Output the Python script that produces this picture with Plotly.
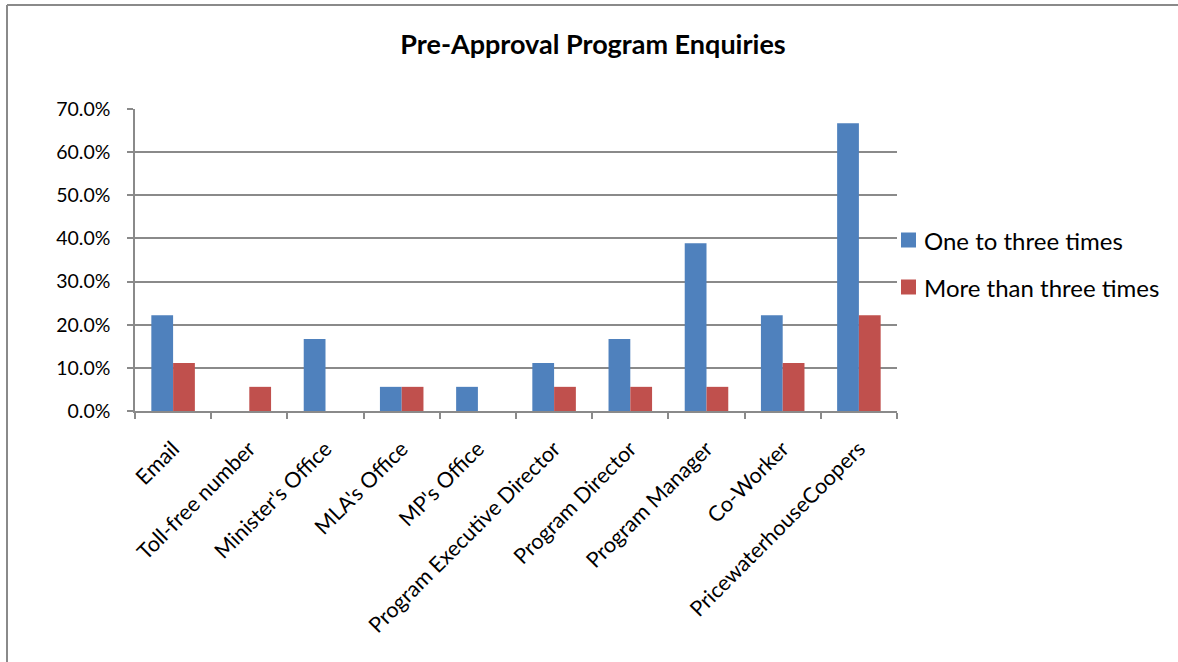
import plotly.graph_objects as go

categories = [
    "Email", "Toll-free number", "Minister's Office", "MLA's Office", "MP's Office",
    "Program Executive Director", "Program Director", "Program Manager",
    "Co-Worker", "PricewaterhouseCoopers",
]
one_to_three = [0.222, 0.0, 0.167, 0.056, 0.056, 0.111, 0.167, 0.389, 0.222, 0.667]
more_than_three = [0.111, 0.056, 0.0, 0.056, 0.0, 0.056, 0.056, 0.056, 0.111, 0.222]
y_ticks = [0.0, 0.1, 0.2, 0.3, 0.4, 0.5, 0.6, 0.7]

series = [
    ("One to three times", one_to_three, "#4F81BD"),
    ("More than three times", more_than_three, "#C0504D"),
]

FONT = "Lato"
GRID = "#8a8a8a"

# plot area: x 135..897, y 109..411 in a 1178x662 page
PW, PH = 1178, 662
L, R, T, B = 135, PW - 897, 109, PH - 411
W, H = PW - L - R, PH - T - B


def px_x(x):
    return (x - L) / W


def px_y(y):
    return 1 - (y - T) / H


fig = go.Figure()
for name, values, color in series:
    fig.add_trace(go.Bar(
        name=name, x=categories, y=values,
        marker=dict(color=color, line=dict(width=0)),
        showlegend=False,
    ))

# chart frame (left and top edges), then a legend drawn as colour squares with text
shapes = [
    dict(type="line", xref="paper", yref="paper",
         x0=px_x(7), x1=px_x(7), y0=px_y(700), y1=px_y(5),
         line=dict(color="#8a8a8a", width=2)),
    dict(type="line", xref="paper", yref="paper",
         x0=px_x(7), x1=px_x(1200), y0=px_y(5), y1=px_y(5),
         line=dict(color="#8a8a8a", width=2)),
]
annotations = []
for i, (name, _, color) in enumerate(series):
    yc = 240 + 47 * i
    shapes.append(dict(
        type="rect", xref="paper", yref="paper",
        x0=px_x(901), x1=px_x(916), y0=px_y(yc + 7.5), y1=px_y(yc - 7.5),
        line=dict(width=0), fillcolor=color,
    ))
    annotations.append(dict(
        xref="paper", yref="paper", x=px_x(922), y=px_y(yc),
        xanchor="left", yanchor="middle", showarrow=False,
        text=name, font=dict(family=FONT, size=24, color="black"),
    ))

fig.update_layout(
    width=PW, height=PH,
    margin=dict(l=L, r=R, t=T, b=B, autoexpand=False),
    paper_bgcolor="white", plot_bgcolor="white",
    barmode="group", bargap=1.5 / 3.5, bargroupgap=0,
    font=dict(family=FONT, color="black"),
    title=dict(
        text="<b>Pre-Approval Program Enquiries</b>",
        x=593 / PW, xanchor="center", y=1 - 45 / PH, yanchor="middle",
        font=dict(family=FONT, size=27, color="black"),
    ),
    xaxis=dict(
        type="category", tickangle=-45, tickson="boundaries",
        ticks="outside", ticklen=6, tickcolor=GRID, tickwidth=1.5,
        showline=True, linecolor=GRID, linewidth=1.5,
        showgrid=False, tickfont=dict(family=FONT, size=21.5, color="black"),
        ticklabelstandoff=15,
    ),
    yaxis=dict(
        range=[0, 0.7], tickvals=y_ticks, tickformat=".1%",
        ticks="outside", ticklen=6, tickcolor=GRID, tickwidth=1.5,
        showline=True, linecolor=GRID, linewidth=1.5,
        showgrid=True, gridcolor=GRID, gridwidth=1.5, zeroline=False,
        tickfont=dict(family=FONT, size=19.5, color="black"),
        ticklabelstandoff=13,
    ),
    shapes=shapes,
    annotations=annotations,
)

fig.write_html("out.html")
